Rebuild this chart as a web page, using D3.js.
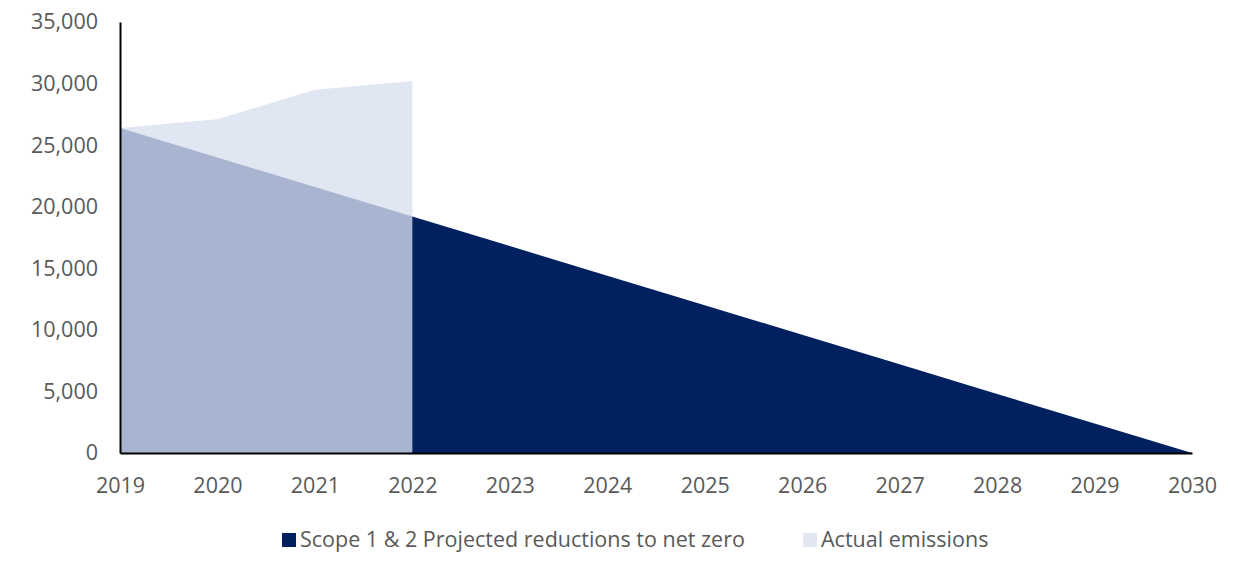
<!DOCTYPE html>
<html>
<head>
<meta charset="utf-8">
<script src="https://cdn.jsdelivr.net/npm/d3@7"></script>
<style>
  body { margin: 0; background: #fff; }
  text { font-family: "Open Sans", sans-serif; fill: #595959; }
</style>
</head>
<body>
<div id="chart-area"></div>
<script>
// values
var years = [2019, 2020, 2021, 2022, 2023, 2024, 2025, 2026, 2027, 2028, 2029, 2030];
var projected = [26400, 24000, 21600, 19200, 16800, 14400, 12000, 9600, 7200, 4800, 2400, 0];
var actualYears = [2019, 2020, 2021, 2022];
var actual = [26400, 27100, 29500, 30200];
var yTicks = [0, 5000, 10000, 15000, 20000, 25000, 30000, 35000];
var seriesNames = ["Scope 1 & 2 Projected reductions to net zero", "Actual emissions"];

const svgWidth = 1248;
const svgHeight = 562;
const margin = {top: 22, right: 56, bottom: 109, left: 120};
const fontSize = 21.5;

var canvas = d3.select("#chart-area").append("svg")
    .attr("width", svgWidth)
    .attr("height", svgHeight);

var xScale = d3.scaleLinear()
    .domain([2019, 2030])
    .range([margin.left, svgWidth - margin.right]);

var yScale = d3.scaleLinear()
    .domain([0, 35000])
    .range([svgHeight - margin.bottom, margin.top]);

var projArea = d3.area()
    .x((d, i) => xScale(years[i]))
    .y0(yScale(0))
    .y1(d => yScale(d));

var actArea = d3.area()
    .x((d, i) => xScale(actualYears[i]))
    .y0(yScale(0))
    .y1(d => yScale(d));

canvas.append("path")
    .datum(projected)
    .attr("fill", "#002060")
    .attr("d", projArea);

// actual emissions sit on top, partly see-through
canvas.append("path")
    .datum(actual)
    .attr("fill", "rgb(216,223,240)")
    .attr("fill-opacity", 0.78)
    .attr("d", actArea);

var xAxis = d3.axisBottom(xScale)
    .tickValues(years)
    .tickFormat(d => d)
    .tickSize(0)
    .tickPadding(25);

var yAxis = d3.axisLeft(yScale)
    .tickValues(yTicks)
    .tickFormat(d3.format(","))
    .tickSize(0)
    .tickPadding(22);

var xAxisGroup = canvas.append("g")
    .attr("transform", "translate(0," + yScale(0) + ")")
    .call(xAxis);

var yAxisGroup = canvas.append("g")
    .attr("transform", "translate(" + margin.left + ",0)")
    .call(yAxis);

[xAxisGroup, yAxisGroup].forEach(g => {
    g.select(".domain").attr("stroke", "#000").attr("stroke-width", 2);
    g.selectAll("text").attr("font-size", fontSize).attr("font-family", "Open Sans, sans-serif").attr("fill", "#595959");
});

var legendColors = ["#002060", "rgb(225,230,242)"];
var legendX = [282, 803];

seriesNames.forEach((name, i) => {
    var row = canvas.append("g")
        .attr("transform", "translate(" + legendX[i] + ",533)");
    row.append("rect")
        .attr("width", 14)
        .attr("height", 14)
        .attr("fill", legendColors[i]);
    row.append("text")
        .attr("x", 18)
        .attr("y", 14)
        .attr("font-size", fontSize)
        .text(name);
});
</script>
</body>
</html>
